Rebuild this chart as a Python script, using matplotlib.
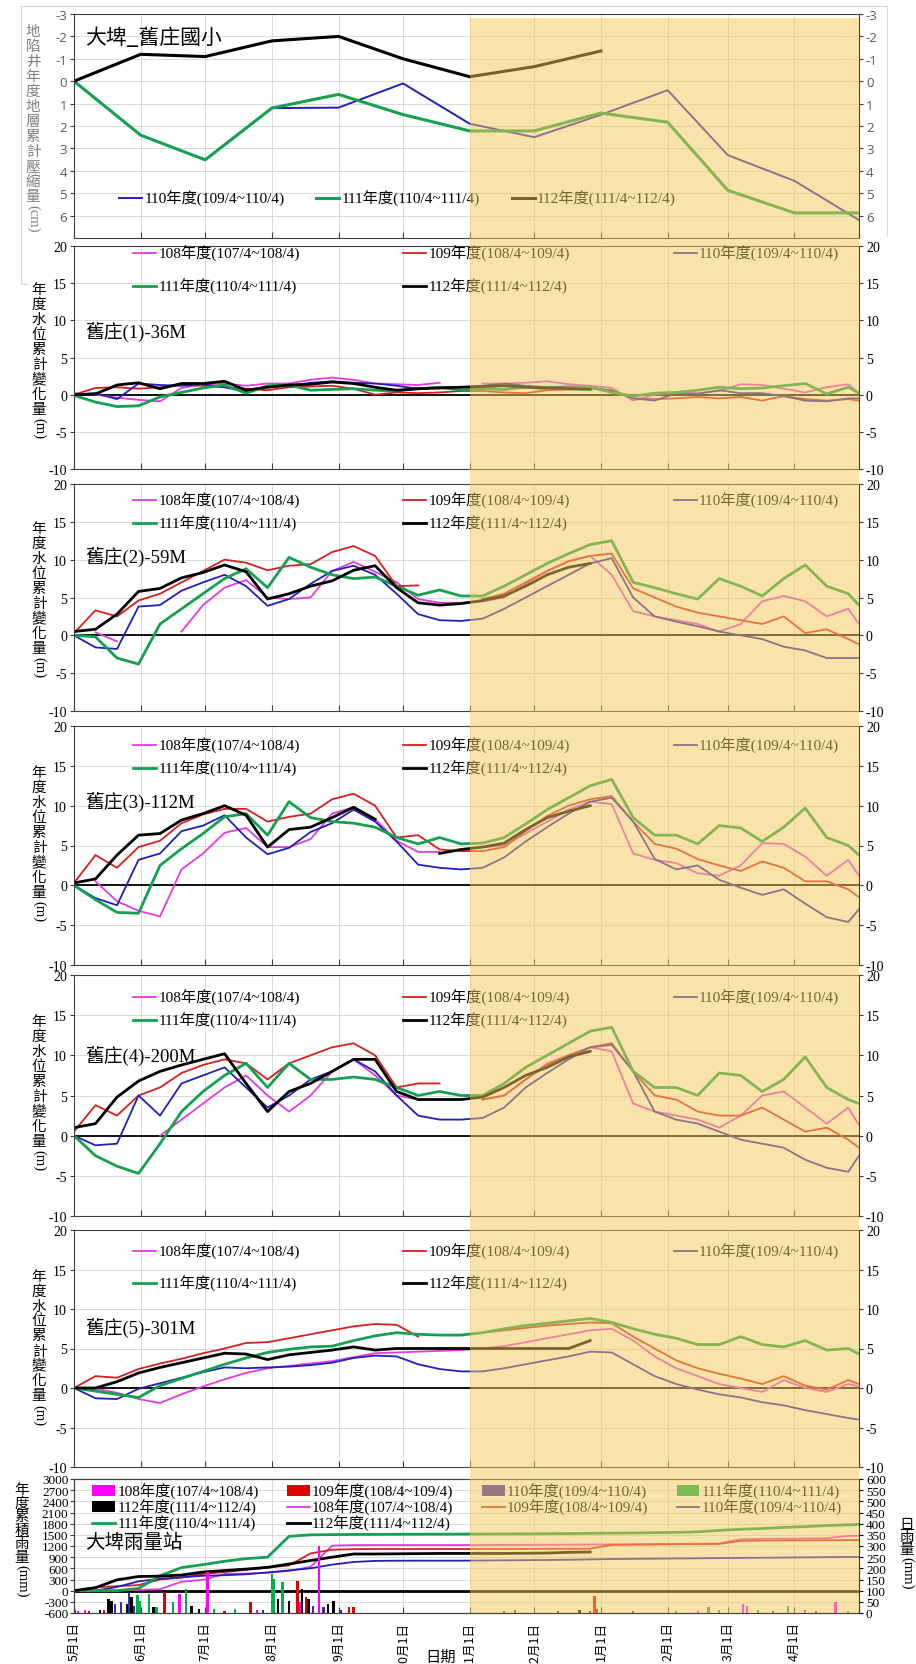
import numpy as np
import matplotlib
matplotlib.use('Agg')
import matplotlib.pyplot as plt
from matplotlib.lines import Line2D
from matplotlib.patches import Patch, Rectangle

plt.rcParams['font.family'] = ['Liberation Serif', 'Noto Sans CJK TC']
plt.rcParams['axes.unicode_minus'] = False

nan = np.nan
W, H = 916, 1665

# ---------------- data ----------------
DAYS = np.r_[np.arange(0, 361, 10), 365]          # days after 5/1
MONTH_DAYS = [0, 31, 61, 92, 123, 153, 184, 214, 245, 276, 304, 335, 365]
MONTH_LABELS = ['5月1日', '6月1日', '7月1日', '8月1日', '9月1日', '10月1日', '11月1日',
                '12月1日', '1月1日', '2月1日', '3月1日', '4月1日', '']
SHADE_START = 184   # 11月1日

YEARS = ['108年度(107/4~108/4)', '109年度(108/4~109/4)', '110年度(109/4~110/4)',
         '111年度(110/4~111/4)', '112年度(111/4~112/4)']
COLORS = ['#E23CE0', '#D42020', '#2020B8', '#14A050', '#000000']
WIDTHS = [1.3, 1.3, 1.3, 2.0, 2.0]

# 地層下陷 (cm), monthly
SUB_110 = [nan, nan, nan, 1.2, 1.18, 0.1, 1.9, 2.5, 1.5, 0.4, 3.3, 4.45, 6.2]
SUB_111 = [0, 2.41, 3.51, 1.2, 0.59, 1.49, 2.22, 2.22, 1.42, 1.83, 4.87, 5.88, 5.88]
SUB_112 = [0, -1.2, -1.1, -1.8, -2.0, -1.0, -0.2, -0.65, -1.35]

# 舊庄(1)-36M
W1_108 = [0.2, 0.0, -0.4, -0.7, -0.9, 0.9, 1.4, 1.5, 1.2, 1.5, 1.5, 2.0, 2.3, 2.0, 1.5, 1.4, 1.3, 1.6, nan,
          1.5, 1.5, 1.6, 1.8, 1.4, 1.2, 0.9, -0.8, 0.0, 0.3, 0.2, 0.5, 1.4, 1.3, 0.8, 0.3, 1.0, 1.4, 0.2]
W1_109 = [0.0, 0.9, 1.0, 0.8, 1.0, 1.3, 1.2, 1.0, 0.8, 0.6, 1.0, 1.1, 1.2, 0.8, 0.0, 0.3, 0.2, 0.3, 0.5,
          0.5, 0.3, 0.2, 0.6, 0.7, 0.8, 0.6, -0.5, -0.6, -0.5, -0.3, -0.5, -0.3, -0.8, -0.2, -0.6, -0.8, -0.6, -0.8]
W1_110 = [0.0, 0.2, -0.6, 1.5, 1.3, 1.2, 1.4, 1.0, 0.4, 1.0, 1.2, 1.6, 1.8, 1.6, 1.5, 1.2, 0.8, 1.0, 1.0,
          1.2, 1.5, 1.2, 1.0, 1.1, 1.0, 0.5, -0.5, -0.8, 0.2, 0.1, 0.6, 0.2, 0.2, -0.2, -0.8, -0.9, -0.5, -0.5]
W1_111 = [-0.1, -1.0, -1.6, -1.5, -0.3, 0.3, 0.9, 1.3, 0.2, 1.2, 1.3, 0.6, 0.7, 0.8, 0.6, 0.5, 0.8, 1.0, 0.6,
          0.8, 0.7, 1.0, 0.8, 0.9, 1.0, 0.3, -0.2, 0.2, 0.3, 0.6, 1.0, 0.8, 0.9, 1.2, 1.5, 0.1, 1.0, 0.2]
W1_112 = [0.0, 0.1, 1.3, 1.6, 0.8, 1.5, 1.5, 1.8, 0.6, 1.0, 1.3, 1.4, 1.7, 1.5, 1.0, 0.6, 0.8, 0.9, 1.0,
          1.1, 1.2, 1.0, 0.9, 0.8, 0.7]

# 舊庄(2)-59M
W2_108 = [nan, 0.4, -0.8, nan, nan, 0.5, 4.0, 6.3, 7.3, 5.0, 4.8, 5.0, 8.5, 9.7, 8.4, 7.0, 4.8, 4.3, 4.3,
          4.5, 5.0, 6.8, 8.5, 9.8, 10.5, 8.0, 3.2, 2.5, 2.0, 1.5, 0.5, 1.5, 4.5, 5.2, 4.5, 2.5, 3.5, 1.5]
W2_109 = [0.3, 3.3, 2.5, 4.6, 5.5, 7.0, 8.5, 10.0, 9.6, 8.6, 9.2, 9.4, 11.0, 11.8, 10.5, 6.5, 6.6, nan, nan,
          4.8, 5.5, 7.0, 8.5, 9.8, 10.5, 10.8, 6.2, 5.0, 3.8, 3.0, 2.5, 2.0, 1.5, 2.5, 0.3, 0.8, -0.5, -1.2]
W2_110 = [0.0, -1.6, -1.8, 3.8, 4.0, 5.9, 7.0, 8.0, 6.5, 3.9, 4.8, 6.8, 8.5, 9.2, 8.0, 5.5, 2.8, 2.0, 1.9,
          2.2, 3.5, 5.0, 6.5, 8.0, 9.5, 10.2, 5.0, 2.5, 1.8, 1.2, 0.5, 0.0, -0.5, -1.5, -2.0, -3.0, -3.0, -3.0]
W2_111 = [0.0, -0.2, -3.0, -3.8, 1.5, 3.5, 5.5, 7.5, 8.8, 6.3, 10.3, 9.0, 8.0, 7.5, 7.7, 6.5, 5.3, 6.0, 5.2,
          5.2, 6.5, 8.0, 9.5, 10.8, 12.0, 12.5, 7.0, 6.3, 5.5, 4.8, 7.5, 6.5, 5.2, 7.5, 9.3, 6.5, 5.5, 4.0]
W2_112 = [0.5, 0.8, 2.8, 5.8, 6.2, 7.6, 8.3, 9.3, 8.4, 4.8, 5.5, 6.5, 7.2, 8.6, 9.2, 6.3, 4.3, 4.0, 4.2,
          4.6, 5.2, 6.5, 8.0, 9.0, 9.5]

# 舊庄(3)-112M
W3_108 = [nan, 0.5, -2.0, -3.2, -3.9, 2.0, 4.0, 6.6, 7.2, 4.8, 4.8, 5.8, 9.0, 9.8, 8.3, 5.6, 4.2, 4.2, nan,
          4.8, 5.0, 6.5, 8.0, 9.5, 10.5, 10.2, 4.0, 3.2, 2.8, 1.5, 1.2, 2.5, 5.3, 5.2, 3.6, 1.2, 3.2, 1.2]
W3_109 = [0.3, 3.8, 2.2, 4.8, 5.6, 7.8, 8.9, 9.6, 9.6, 8.0, 8.6, 9.0, 10.8, 11.5, 10.0, 6.0, 6.3, 4.5, 4.3,
          4.3, 4.8, 6.8, 8.7, 10.0, 10.8, 11.2, 8.0, 5.2, 4.6, 3.3, 2.5, 1.8, 3.0, 2.2, 0.5, 0.5, -0.5, -1.5]
W3_110 = [0.0, -1.6, -2.5, 3.2, 4.0, 6.8, 7.5, 8.8, 6.0, 3.9, 4.7, 6.7, 7.8, 9.5, 8.0, 5.5, 2.6, 2.2, 2.0,
          2.2, 3.5, 5.5, 7.3, 9.0, 10.5, 11.0, 8.0, 3.3, 2.0, 2.5, 0.7, -0.3, -1.2, -0.5, -2.3, -4.0, -4.6, -3.0]
W3_111 = [0.0, -1.8, -3.4, -3.5, 2.5, 4.6, 6.5, 8.6, 9.0, 6.3, 10.5, 8.5, 8.0, 7.8, 7.3, 6.0, 5.2, 6.0, 5.2,
          5.3, 6.0, 7.7, 9.5, 11.0, 12.5, 13.3, 8.5, 6.3, 6.3, 5.2, 7.5, 7.2, 5.5, 7.3, 9.7, 6.0, 5.0, 3.8]
W3_112 = [0.3, 0.8, 3.8, 6.3, 6.5, 8.2, 9.0, 10.0, 8.8, 4.8, 7.0, 7.3, 8.5, 9.8, 8.3, nan, nan, 4.0, 4.5,
          4.8, 5.3, 7.0, 8.5, 9.3, 10.0]

# 舊庄(4)-200M
W4_108 = [nan, nan, nan, nan, 0.0, 2.0, 4.0, 6.0, 7.5, 5.0, 3.0, 5.0, 8.0, 9.5, 7.5, 5.0, 4.5, 4.5, nan,
          4.5, 5.0, 7.0, 9.0, 10.0, 11.0, 10.5, 4.0, 3.0, 2.5, 2.0, 1.0, 2.5, 5.0, 5.5, 3.5, 1.5, 3.5, 1.3]
W4_109 = [0.5, 3.8, 2.5, 5.0, 6.0, 7.8, 8.8, 9.5, 9.0, 7.0, 9.0, 10.0, 11.0, 11.5, 10.0, 6.0, 6.5, 6.5, nan,
          4.5, 5.0, 7.0, 8.8, 10.0, 11.0, 11.5, 8.0, 5.0, 4.5, 3.0, 2.5, 2.5, 3.5, 2.0, 0.5, 1.0, -0.5, -1.5]
W4_110 = [0.0, -1.2, -1.0, 5.0, 2.5, 6.5, 7.5, 8.5, 6.0, 3.5, 5.0, 7.0, 8.0, 9.5, 8.0, 5.0, 2.5, 2.0, 2.0,
          2.2, 3.5, 6.0, 7.8, 9.5, 11.0, 11.3, 8.0, 3.0, 2.0, 1.5, 0.5, -0.5, -1.0, -1.5, -3.0, -4.0, -4.5, -2.5]
W4_111 = [0.0, -2.5, -3.8, -4.7, -1.0, 3.0, 5.5, 7.5, 9.0, 6.0, 9.0, 7.0, 7.0, 7.3, 7.0, 6.0, 5.0, 5.5, 5.0,
          5.0, 6.5, 8.5, 10.0, 11.5, 13.0, 13.5, 8.0, 6.0, 6.0, 5.0, 7.8, 7.5, 5.5, 7.0, 9.8, 6.0, 4.5, 4.0]
W4_112 = [1.0, 1.5, 4.8, 6.8, 8.0, 8.8, 9.5, 10.2, 6.5, 3.0, 5.5, 6.5, 8.0, 9.5, 9.5, 5.5, 4.5, 4.5, 4.5,
          4.8, 6.0, 7.5, 8.5, 9.8, 10.5]

# 舊庄(5)-301M
W5_108 = [0.0, -0.1, -0.6, -1.4, -1.9, -0.8, 0.2, 1.1, 1.9, 2.5, 2.8, 3.1, 3.4, 3.9, 4.4, 4.5, 4.6, 4.7, 4.8,
          5.0, 5.3, 5.8, 6.3, 6.8, 7.3, 7.5, 6.0, 4.0, 2.5, 1.5, 0.5, 0.0, -0.5, 1.0, 0.0, -0.5, 0.5, 0.2]
W5_109 = [0.0, 1.5, 1.3, 2.4, 3.1, 3.7, 4.4, 5.0, 5.7, 5.8, 6.3, 6.8, 7.3, 7.8, 8.1, 8.0, 6.5, nan, nan,
          7.0, 7.3, 7.6, 7.9, 8.1, 8.3, 8.2, 6.5, 5.0, 3.5, 2.5, 1.8, 1.2, 0.5, 1.5, 0.3, -0.2, 1.0, 0.5]
W5_110 = [0.0, -1.3, -1.4, -0.1, 0.6, 1.3, 2.0, 2.6, 2.5, 2.6, 2.7, 2.9, 3.2, 3.8, 4.1, 4.0, 3.0, 2.4, 2.1,
          2.1, 2.5, 3.0, 3.5, 4.0, 4.6, 4.5, 3.0, 1.5, 0.5, -0.2, -0.8, -1.2, -1.8, -2.2, -2.8, -3.3, -3.8, -4.0]
W5_111 = [0.0, -0.4, -0.8, -1.2, 0.3, 1.2, 2.1, 3.0, 3.8, 4.5, 4.9, 5.2, 5.3, 6.0, 6.6, 7.0, 6.8, 6.7, 6.7,
          7.0, 7.5, 7.9, 8.2, 8.5, 8.8, 8.3, 7.5, 6.8, 6.3, 5.5, 5.5, 6.5, 5.5, 5.2, 6.0, 4.8, 5.0, 4.3]
W5_112 = [0.0, 0.0, 0.8, 1.9, 2.6, 3.2, 3.8, 4.4, 4.3, 3.6, 4.2, 4.5, 4.8, 5.2, 4.8, 5.0, 5.0, 5.0, 5.0,
          5.0, 5.0, 5.0, 5.0, 5.0, 6.0]

# 大埤雨量站: cumulative (mm)
RAIN_CUM_108 = [0, 0, 10, 20, 40, 240, 290, 450, 460, 480, 530, 640, 1210, 1225, 1226, 1226, 1226, 1226, 1226,
                1228, 1230, 1232, 1235, 1238, 1240, 1245, 1248, 1250, 1255, 1260, 1270, 1380, 1390, 1395, 1400, 1410, 1470, 1475]
RAIN_CUM_109 = [0, 90, 120, 150, 300, 350, 450, 500, 560, 620, 680, 1000, 1100, 1115, 1119, 1119, 1119, 1119, 1119,
                1120, 1120, 1122, 1125, 1125, 1128, 1230, 1235, 1240, 1245, 1250, 1255, 1340, 1345, 1350, 1350, 1355, 1358, 1360]
RAIN_CUM_110 = [0, 0, 100, 250, 320, 360, 400, 415, 440, 490, 545, 600, 700, 770, 800, 805, 806, 806, 806,
                810, 815, 820, 825, 830, 840, 850, 855, 860, 865, 870, 875, 880, 885, 890, 895, 900, 905, 905]
RAIN_CUM_111 = [0, 0, 0, 60, 400, 620, 700, 790, 860, 900, 1460, 1500, 1505, 1510, 1512, 1515, 1517, 1518, 1520,
                1522, 1525, 1528, 1530, 1535, 1540, 1545, 1550, 1560, 1565, 1580, 1620, 1650, 1670, 1700, 1720, 1750, 1770, 1780]
RAIN_CUM_112 = [0, 80, 290, 380, 390, 420, 500, 540, 580, 627, 716, 810, 900, 985, 985, 990, 995, 1000, 1000,
                1000, 1000, 1005, 1010, 1030, 1040]

# daily rainfall (mm): day after 5/1 and amount
RAIN_108_DAY = [2, 5, 49, 62, 85, 105, 114, 290, 311, 313, 340, 354]
RAIN_108_MM = [10, 15, 85, 182, 12, 48, 301, 8, 40, 30, 15, 48]
RAIN_109_DAY = [0.5, 7, 14, 42, 70, 82, 104, 108, 128, 130, 200, 205, 240, 242, 243]
RAIN_109_MM = [15, 10, 12, 92, 10, 48, 145, 70, 25, 25, 10, 15, 10, 78, 18]
RAIN_110_DAY = [19, 22, 25.6, 27.6, 88, 111, 116, 124, 225, 260, 325, 345]
RAIN_110_MM = [40, 48, 88, 33, 15, 30, 25, 15, 8, 8, 10, 10]
RAIN_111_DAY = [29.5, 30.7, 35, 38.4, 46, 52, 65, 75, 92, 93, 97, 280, 295, 300, 318, 332, 360]
RAIN_111_MM = [80, 55, 85, 25, 48, 107, 20, 18, 175, 152, 137, 10, 25, 15, 12, 33, 10]
RAIN_112_DAY = [12, 16, 17.5, 24.5, 26.8, 37, 54.7, 58, 95, 100, 106, 109, 118, 120.6, 235]
RAIN_112_MM = [15, 63, 55, 40, 70, 25, 33, 20, 63, 55, 107, 63, 40, 55, 12]
RAIN_BAR_COLORS = ['#FF00FF', '#E00000', '#3A2AB0', '#00B050', '#000000']

# ---------------- drawing ----------------
fig = plt.figure(figsize=(W / 100, H / 100), dpi=100)
RED = '#C0392B'


def add_ax(top, bottom, left=74, right=859):
    return fig.add_axes([left / W, 1 - bottom / H, (right - left) / W, (bottom - top) / H])


def style(ax):
    for s in ax.spines.values():
        s.set_color('#404040')
        s.set_linewidth(0.8)
    ax.set_xlim(0, 365)
    ax.set_xticks(MONTH_DAYS)
    ax.grid(color='#D9D9D9', lw=0.7)
    ax.set_axisbelow(True)
    ax.tick_params(axis='x', direction='in', length=4, color='#404040', labelbottom=False)
    ax.tick_params(axis='y', direction='out', length=3, color='#404040', labelsize=10,
                   right=True, labelright=True, pad=2)


def color_ticks(ax, pos='black'):
    for t in ax.yaxis.get_major_ticks():
        c = RED if t.get_loc() < 0 else pos
        t.label1.set_color(c)
        t.label2.set_color(c)


def vlabel(x, y0, chars, unit, step=15, size=10.5, color='black'):
    for i, ch in enumerate(chars):
        fig.text(x / W, 1 - (y0 + i * step) / H, ch, ha='center', va='center',
                 fontsize=size, color=color, family='Noto Sans CJK TC')
    fig.text(x / W, 1 - (y0 + (len(chars) - 1) * step + step * 0.55) / H, unit, rotation=270,
             ha='center', va='top', fontsize=size, color=color)


# --- top: 地層下陷 ---
ax0 = add_ax(15, 239)
ax0.plot(MONTH_DAYS[:len(SUB_110)], SUB_110, color='#1F1FC0', lw=1.4)
ax0.plot(MONTH_DAYS[:len(SUB_111)], SUB_111, color='#14A050', lw=2.2)
ax0.plot(MONTH_DAYS[:len(SUB_112)], SUB_112, color='black', lw=2.2)
style(ax0)
ax0.set_ylim(7, -3)
ax0.set_yticks(range(-3, 7))
ax0.tick_params(axis='y', labelsize=9.5)
for t in ax0.yaxis.get_major_ticks():
    c = '#C0504D' if t.get_loc() < 0 else '#595959'
    t.label1.set_color(c); t.label2.set_color(c)
    t.label1.set_family('Open Sans'); t.label2.set_family('Open Sans')
ax0.text(0.014, 1 - 23 / 224, '大埤_舊庄國小', transform=ax0.transAxes, fontsize=15,
         va='center', family='Noto Sans CJK TC')
h0 = [Line2D([], [], color='#1F1FC0', lw=1.4), Line2D([], [], color='#14A050', lw=2.2),
      Line2D([], [], color='black', lw=2.2)]
ax0.legend(h0, YEARS[2:], ncol=3, loc='center left', bbox_to_anchor=((119 - 74) / 785, 1 - 184 / 224),
           frameon=False, fontsize=11, handlelength=1.5, handletextpad=0.15, columnspacing=2.1,
           borderpad=0, borderaxespad=0)
vlabel(33, 32, '地陷井年度地層累計壓縮量', '(cm)', step=15, size=10.5, color='#7F7F7F')

# frame of the embedded top chart
for xs, ys in [([21, 887], [7, 7]), ([21, 21], [7, 285]), ([21, 27], [285, 285]), ([887, 887], [7, 237])]:
    fig.add_artist(Line2D([x / W for x in xs], [1 - y / H for y in ys], color='#D9D9D9', lw=0.8))

# --- wells ---
WELLS = [
    (247, 470, '舊庄(1)-36M', [W1_108, W1_109, W1_110, W1_111, W1_112], 332, 256, 36),
    (485, 712, '舊庄(2)-59M', [W2_108, W2_109, W2_110, W2_111, W2_112], 557, 503, 26),
    (727, 966, '舊庄(3)-112M', [W3_108, W3_109, W3_110, W3_111, W3_112], 802, 748, 26),
    (976, 1217, '舊庄(4)-200M', [W4_108, W4_109, W4_110, W4_111, W4_112], 1056, 1000, 26),
    (1231, 1468, '舊庄(5)-301M', [W5_108, W5_109, W5_110, W5_111, W5_112], 1328, 1254, 35),
]
ORDER = [0, 3, 1, 4, 2]
for top, bottom, title, data, ty, ly, lgap in WELLS:
    ax = add_ax(top, bottom)
    h = bottom - top
    for arr, c, lw in zip(data, COLORS, WIDTHS):
        ax.plot(DAYS[:len(arr)], arr, color=c, lw=lw)
    ax.axhline(0, color='black', lw=1.3, zorder=1.5)
    style(ax)
    ax.set_ylim(-10, 20)
    ax.set_yticks(range(-10, 21, 5))
    color_ticks(ax)
    ax.text(0.014, 1 - (ty - top) / h, title, transform=ax.transAxes, fontsize=13.5, va='center')
    hs = [Line2D([], [], color=c, lw=lw) for c, lw in zip(COLORS, WIDTHS)]
    ax.legend([hs[i] for i in ORDER], [YEARS[i] for i in ORDER], ncol=3, loc='upper left',
              bbox_to_anchor=((133 - 74) / 785, 1 - (ly - 10 - top) / h), frameon=False, fontsize=11,
              handlelength=1.5, handletextpad=0.15, columnspacing=6.8,
              labelspacing=(lgap - 19) / 15.3, borderpad=0, borderaxespad=0)
    vlabel(39, top + h / 6 + 6, '年度水位累計變化量', '(m)', step=15, size=10.5)

# --- rainfall ---
axr = add_ax(1480, 1614)
cums = [RAIN_CUM_108, RAIN_CUM_109, RAIN_CUM_110, RAIN_CUM_111, RAIN_CUM_112]
for arr, c, lw in zip(cums, COLORS, WIDTHS):
    axr.plot(DAYS[:len(arr)], arr, color=c, lw=lw)
axr.axhline(0, color='black', lw=2.0, zorder=1.5)
style(axr)
axr.tick_params(axis='y', right=False, labelright=False, labelsize=9.5, pad=1)
axr.set_ylim(-600, 3000)
axr.set_yticks(range(-600, 3001, 300))
color_ticks(axr)
axr.set_xticks(MONTH_DAYS)
axr.set_xticklabels(MONTH_LABELS, rotation=90, fontsize=9, family='Noto Sans CJK TC')
axr.tick_params(axis='x', labelbottom=True, pad=6)
axr.text(0.014, 1 - 63 / 134, '大埤雨量站', transform=axr.transAxes, fontsize=14, va='center',
         family='Noto Sans CJK TC')

ax2 = axr.twinx()
bars = [(RAIN_108_DAY, RAIN_108_MM), (RAIN_109_DAY, RAIN_109_MM), (RAIN_110_DAY, RAIN_110_MM),
        (RAIN_111_DAY, RAIN_111_MM), (RAIN_112_DAY, RAIN_112_MM)]
for (d, mm), c in zip(bars, RAIN_BAR_COLORS):
    ax2.bar(d, mm, width=1.1, color=c)
ax2.set_xlim(0, 365)
ax2.set_ylim(0, 600)
ax2.set_yticks(range(0, 601, 50))
ax2.tick_params(axis='y', direction='out', length=3, labelsize=9.5, pad=2)
for s in ax2.spines.values():
    s.set_color('#404040')
    s.set_linewidth(0.8)

bh = [Patch(facecolor=c) for c in RAIN_BAR_COLORS]
lh = [Line2D([], [], color=c, lw=lw) for c, lw in zip(COLORS, WIDTHS)]
rh = [bh[0], bh[4], lh[3], bh[1], lh[0], lh[4], bh[2], lh[1], bh[3], lh[2]]
rl = [YEARS[0], YEARS[4], YEARS[3], YEARS[1], YEARS[0], YEARS[4], YEARS[2], YEARS[1], YEARS[3], YEARS[2]]
ax2.legend(rh, rl, ncol=4, loc='upper left', bbox_to_anchor=((92 - 74) / 785, 1 - 4 / 134),
           frameon=False, fontsize=11, handlelength=1.5, handletextpad=0.15, columnspacing=1.85,
           labelspacing=0.0, borderpad=0, borderaxespad=0)

vlabel(22, 1490, '年度累積雨量', '(mm)', step=13.6, size=10.5)
vlabel(907, 1525, '日雨量', '(mm)', step=12.5, size=10.5)
fig.text(441 / W, 1 - 1657 / H, '日期', ha='center', va='center', fontsize=11, family='Noto Sans CJK TC')

# --- 11月~4月 shading over everything ---
x0 = 74 + SHADE_START / 365 * 785
fig.add_artist(Rectangle((x0 / W, 1 - 1614 / H), (859 - x0) / W, (1614 - 19) / H,
                         transform=fig.transFigure, facecolor='#F5C959', edgecolor='none',
                         alpha=0.5, zorder=100))

fig.savefig('out.png', dpi=100)
